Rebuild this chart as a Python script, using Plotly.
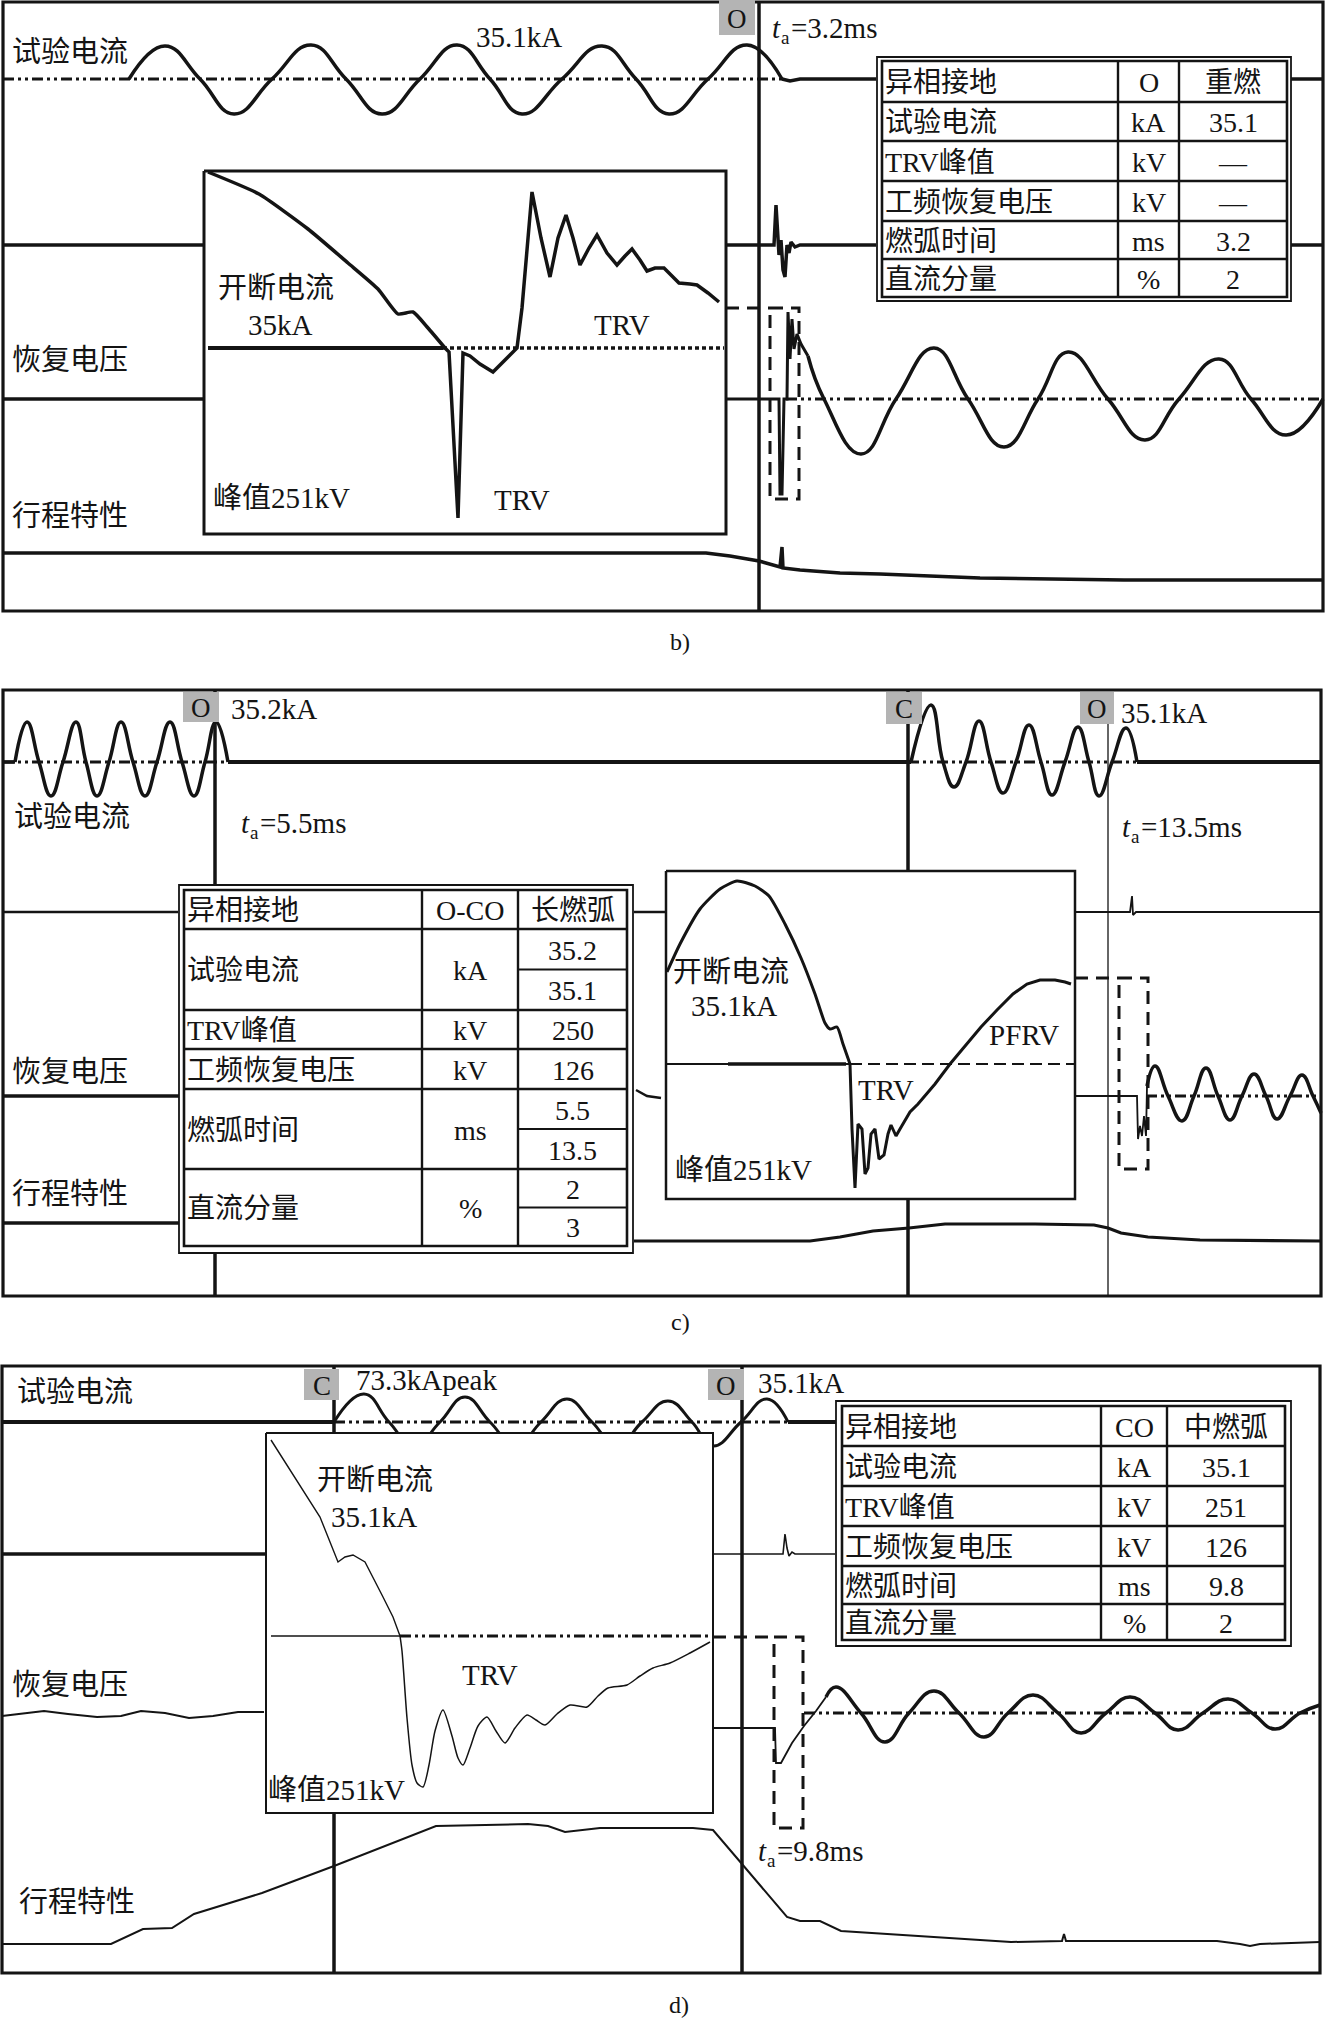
import plotly.graph_objects as go

W, H = 1328, 2021
INK = "#141414"
FONT = "Liberation Serif, 'Noto Sans CJK SC', serif"
DASHDOT = "11px,4px,3px,4px,3px,4px"

# ---------------- layout constants (positions, not data) ----------------
PANEL_BOX = {"b": (3, 2, 1323, 611), "c": (3, 690, 1321, 1296), "d": (2, 1366, 1320, 1973)}
B_Y = dict(cur=79, aux=245, rv=399, trav=553, ins=348)
C_Y = dict(cur=762, aux=912, rv=1096, trav=1241, ins=1064)
D_Y = dict(cur=1422, aux=1554, rv=1713, trav=1944, ins=1636)

# ================= DATA (sample time position, value above trace baseline) =========
# ---- panel b) ----
b_cur_x = [129, 165, 200, 234, 272, 311, 346, 382, 420, 457, 490, 522, 562, 602, 636, 669, 708, 747, 782]
b_cur_v = [0, 33, 0, -35, 0, 34, 0, -35, 0, 34, 0, -35, 0, 33, 0, -35, 0, 34, 0]
b_cur_tail_x = [782, 790, 800, 876]
b_cur_tail_v = [0, -2, 0, 0]
b_aux_x = [727, 774, 776, 778, 779, 781, 783, 785, 787, 789, 791, 795, 800, 876]
b_aux_v = [0, 0, 40, 0, -10, 5, -25, -32, 0, -8, 3, -2, 0, 0]
b_rv_jump_x = [727, 779, 780, 782, 784, 787, 788, 790, 792, 794, 797, 801, 808]
b_rv_jump_v = [0, 0, -95, -95, 0, 0, 87, 40, 80, 50, 65, 55, 43]
b_rv_x = [808, 824, 861, 896, 934, 968, 1004, 1038, 1068, 1108, 1145, 1179, 1219, 1251, 1286, 1323]
b_rv_v = [43, 0, -55, 0, 51, 0, -48, 0, 47, 0, -41, 0, 40, 0, -36, 0]
b_trav_x = [3, 706, 730, 759, 780, 782, 783, 800, 840, 880, 980, 1124, 1323]
b_trav_v = [0, 0, -3, -8, -14, 6, -15, -17, -20, -21, -25, -27, -27]
b_ins_cur_x = [208, 259, 308, 348, 378, 398, 413, 428, 445]
b_ins_cur_v = [176, 154, 119, 85, 59, 34, 36, 20, 0]
b_ins_trv_x = [445, 449, 458, 463, 470, 480, 493, 505, 517, 522, 532, 541, 550, 558, 566, 573, 580,
               589, 597, 607, 617, 625, 632, 640, 647, 655, 664, 672, 679, 690, 697, 708, 719]
b_ins_trv_v = [0, -4, -170, -5, -8, -16, -24, -12, 0, 40, 156, 110, 71, 110, 133, 110, 83,
               100, 113, 95, 83, 92, 99, 88, 77, 80, 80, 72, 65, 64, 63, 55, 46]

# ---- panel c) ----
c_cur1_x = [15, 27, 39, 51, 63, 76, 86, 97, 109, 121, 133, 145, 157, 170, 182, 194, 205, 216, 228]
c_cur1_v = [0, 40, 0, -34, 0, 40, 0, -34, 0, 40, 0, -34, 0, 40, 0, -34, 0, 40, 0]
c_cur2_x = [911, 931, 943, 954, 966, 979, 991, 1003, 1016, 1029, 1041, 1052, 1065, 1078, 1089, 1099, 1112, 1126, 1137]
c_cur2_v = [0, 57, 0, -25, 0, 41, 0, -31, 0, 37, 0, -33, 0, 35, 0, -34, 0, 34, 0]
c_aux_x = [1075, 1130, 1132, 1133, 1136, 1321]
c_aux_v = [0, 0, 16, -3, 0, 0]
c_rv_mid_x = [636, 647, 661]
c_rv_mid_v = [6, 0, -2]
c_rv_jump_x = [1075, 1137, 1138, 1140, 1142, 1144, 1146, 1147]
c_rv_jump_v = [0, 0, -43, -30, -40, -20, -40, 10]
c_rv_x = [1147, 1155, 1168, 1182, 1194, 1206, 1218, 1230, 1242, 1254, 1266, 1277, 1290, 1302, 1313, 1321]
c_rv_v = [10, 30, 0, -25, 0, 28, 0, -24, 0, 22, 0, -23, 0, 21, 0, -17]
c_trav_left_v = 18
c_trav_x = [634, 810, 840, 873, 909, 945, 975, 1035, 1094, 1108, 1121, 1148, 1200, 1321]
c_trav_v = [0, 0, 4, 10, 13, 17, 17, 17, 16, 13, 8, 4, 1, 0]
c_ins_cur_x = [667, 680, 700, 720, 737, 755, 769, 785, 801, 815, 825, 830, 837, 843, 850]
c_ins_cur_v = [92, 120, 155, 175, 183, 178, 168, 140, 106, 70, 41, 35, 37, 20, 0]
c_ins_trv_x = [850, 852, 855, 858, 862, 865, 868, 871, 875, 879, 884, 888, 891, 896, 900, 910, 918,
               935, 950, 965, 981, 997, 1013, 1027, 1040, 1055, 1065, 1071]
c_ins_trv_v = [0, -65, -124, -60, -65, -110, -104, -70, -65, -95, -91, -70, -61, -72, -65, -48, -40,
               -20, 0, 18, 37, 54, 70, 80, 84, 84, 82, 80]

# ---- panel d) ----
d_cur_x = [334, 364, 389, 414, 440, 465, 490, 516, 541, 567, 592, 617, 642, 668, 692, 713, 741, 767, 788]
d_cur_v = [0, 28, 0, -24, 0, 25, 0, -24, 0, 23, 0, -24, 0, 21, 0, -24, 0, 23, 0]
d_aux_x = [713, 783, 785, 787, 789, 792, 795, 835]
d_aux_v = [0, 0, 20, 6, -2, 2, 0, 0]
d_rv_left_x = [2, 24, 44, 68, 97, 121, 141, 165, 189, 213, 238, 264]
d_rv_left_v = [-3, 0, 2, -1, -4, -3, 2, 0, -5, -3, 1, 1]
d_rv_jump_x = [713, 775, 776, 781, 792, 804, 816, 826]
d_rv_jump_v = [-15, -15, -50, -50, -30, -13, 2, 16]
d_rv_x = [826, 836, 861, 885, 909, 934, 959, 984, 1008, 1033, 1058, 1081, 1106, 1130, 1155, 1178,
          1203, 1228, 1252, 1275, 1300, 1320]
d_rv_v = [16, 26, 0, -29, 0, 22, 0, -24, 0, 18, 0, -20, 0, 16, 0, -17, 0, 14, 0, -16, 0, 8]
d_trav_x = [2, 111, 143, 172, 194, 262, 334, 417, 436, 528, 548, 565, 600, 693, 713, 742, 787, 800,
            820, 841, 900, 1011, 1062, 1064, 1066, 1150, 1217, 1240, 1250, 1260, 1320]
d_trav_v = [0, 0, 15, 16, 30, 51, 78, 110, 118, 120, 118, 112, 116, 116, 114, 80, 27, 23,
            23, 13, 9, 2, 3, 10, 3, 3, 3, 0, -2, 0, 2]
d_ins_cur_x = [271, 300, 320, 338, 345, 353, 365, 383, 393, 400]
d_ins_cur_v = [196, 150, 119, 74, 79, 81, 74, 39, 19, 0]
d_ins_trv_x = [400, 402, 407, 412, 417, 423, 429, 435, 443, 452, 458, 463, 470, 478, 487, 496, 505,
               515, 527, 536, 545, 557, 570, 587, 598, 608, 627, 640, 653, 670, 690, 710]
d_ins_trv_v = [0, -15, -82, -129, -147, -151, -129, -95, -74, -100, -122, -129, -112, -90, -81, -95, -107,
               -92, -79, -84, -89, -78, -69, -71, -60, -52, -49, -40, -32, -27, -17, -6]

# ---- tables ----
b_table = [("异相接地", "O", ["重燃"]), ("试验电流", "kA", ["35.1"]), ("TRV峰值", "kV", ["—"]),
           ("工频恢复电压", "kV", ["—"]), ("燃弧时间", "ms", ["3.2"]), ("直流分量", "%", ["2"])]
c_table = [("异相接地", "O-CO", ["长燃弧"]), ("试验电流", "kA", ["35.2", "35.1"]), ("TRV峰值", "kV", ["250"]),
           ("工频恢复电压", "kV", ["126"]), ("燃弧时间", "ms", ["5.5", "13.5"]), ("直流分量", "%", ["2", "3"])]
d_table = [("异相接地", "CO", ["中燃弧"]), ("试验电流", "kA", ["35.1"]), ("TRV峰值", "kV", ["251"]),
           ("工频恢复电压", "kV", ["126"]), ("燃弧时间", "ms", ["9.8"]), ("直流分量", "%", ["2"])]
arc_times = {"b": "3.2ms", "c1": "5.5ms", "c2": "13.5ms", "d": "9.8ms"}

# ================= drawing =================
fig = go.Figure()
shapes = []
notes = []


def seg(base, xs, vs, w=3.5, shape="linear", dash=None, smooth=1.3):
    ln = dict(color=INK, width=w, shape=shape)
    if shape == "spline":
        ln["smoothing"] = smooth
    if dash:
        ln["dash"] = dash
    fig.add_trace(go.Scatter(x=list(xs), y=[base - v for v in vs], mode="lines", line=ln,
                             hoverinfo="skip", showlegend=False))


def flat(base, x0, x1, v=0, w=3.5, dash=None):
    seg(base, [x0, x1], [v, v], w=w, dash=dash)


def fill_box(x0, y0, x1, y1, w):
    fig.add_trace(go.Scatter(x=[x0, x1, x1, x0, x0], y=[y0, y0, y1, y1, y0], mode="lines",
                             fill="toself", fillcolor="white", line=dict(color=INK, width=w),
                             hoverinfo="skip", showlegend=False))


def vline(x, y0, y1, w=3.5):
    shapes.append(dict(type="line", x0=x, x1=x, y0=y0, y1=y1, xref="x", yref="y", layer="below",
                       line=dict(color=INK, width=w)))


def rect(x0, y0, x1, y1, w=3, dash=None, fill=None, layer="above", color=INK):
    d = dict(type="rect", x0=x0, x1=x1, y0=y0, y1=y1, xref="x", yref="y", layer=layer,
             line=dict(color=color, width=w))
    if dash:
        d["line"]["dash"] = dash
    if fill:
        d["fillcolor"] = fill
    if w == 0:
        d["line"] = dict(width=0)
    shapes.append(d)


def hline(x0, x1, y, w=2.5, dash=None):
    d = dict(type="line", x0=x0, x1=x1, y0=y, y1=y, xref="x", yref="y", layer="above",
             line=dict(color=INK, width=w))
    if dash:
        d["line"]["dash"] = dash
    shapes.append(d)


def text(x, y, s, size=29, anchor="left", style="normal"):
    notes.append(dict(x=x, y=y, text=s, showarrow=False, xanchor=anchor, yanchor="middle",
                      xref="x", yref="y", font=dict(family=FONT, size=size, color=INK, style=style)))


def ta(x, y, s):
    text(x, y, "t", style="italic")
    text(x + 9, y + 9, "a", size=19)
    text(x + 19, y, "=" + s)


def tag(x0, y0, x1, y1, s):
    rect(x0, y0, x1, y1, w=0, fill="#b4b4b4")
    text((x0 + x1) / 2, (y0 + y1) / 2 + 1, s, size=27, anchor="center")


def table(outer, inner, cols, row_edges, rows, size=28):
    ox0, oy0, ox1, oy1 = outer
    ix0, iy0, ix1, iy1 = inner
    rect(ox0, oy0, ox1, oy1, w=1.8, fill="white")
    rect(ix0, iy0, ix1, iy1, w=2.6)
    for cx in cols:
        shapes.append(dict(type="line", x0=cx, x1=cx, y0=iy0, y1=iy1, xref="x", yref="y",
                           layer="above", line=dict(color=INK, width=2.4)))
    for ry in row_edges[1:-1]:
        hline(ix0, ix1, ry, w=2.4)
    c2 = (cols[0] + cols[1]) / 2
    c3 = (cols[1] + ix1) / 2
    for i, (lab, unit, vals) in enumerate(rows):
        r0, r1 = row_edges[i], row_edges[i + 1]
        mid = (r0 + r1) / 2 + 1
        text(ix0 + 1, mid, lab, size=size)
        text(c2, mid, unit, size=size, anchor="center")
        n = len(vals)
        for k, v in enumerate(vals):
            s0 = r0 + (r1 - r0) * k / n
            s1 = r0 + (r1 - r0) * (k + 1) / n
            if k > 0:
                hline(cols[1], ix1, s0, w=2)
            text(c3, (s0 + s1) / 2 + 1, v, size=size, anchor="center")


# ---------- panel b ----------
bx0, by0, bx1, by1 = PANEL_BOX["b"]
vline(759, by0, by1)
seg(B_Y["cur"], [3, 782], [0, 0], w=3, dash=DASHDOT)
seg(B_Y["cur"], b_cur_x, b_cur_v, shape="spline")
seg(B_Y["cur"], b_cur_tail_x, b_cur_tail_v)
flat(B_Y["cur"], 1291, 1323)
flat(B_Y["aux"], 3, 204)
seg(B_Y["aux"], b_aux_x, b_aux_v)
flat(B_Y["aux"], 1291, 1323)
flat(B_Y["rv"], 3, 204)
seg(B_Y["rv"], b_rv_jump_x, b_rv_jump_v, w=3)
seg(B_Y["rv"], [786, 1323], [0, 0], w=3, dash=DASHDOT)
seg(B_Y["rv"], b_rv_x, b_rv_v, shape="spline")
seg(B_Y["trav"], b_trav_x, b_trav_v, w=3.5)
fill_box(204, 171, 726, 534, 3)
flat(B_Y["ins"], 208, 443, w=4)
seg(B_Y["ins"], [443, 724], [0, 0], w=3.5, dash="4px,3px")
seg(B_Y["ins"], b_ins_cur_x, b_ins_cur_v, w=3.5, shape="spline", smooth=0.5)
seg(B_Y["ins"], b_ins_trv_x, b_ins_trv_v, w=3.5)
hline(726, 770, 308, w=3, dash="13px,8px")
rect(770, 308, 799, 499, w=3, dash="13px,8px")
table((877, 57, 1291, 301), (882, 61, 1287, 297), [1118, 1179], [61, 102, 141, 181, 221, 259, 297], b_table)
tag(719, 0, 755, 35, "O")
text(10, 52, "试验电流")
text(10, 360, "恢复电压")
text(10, 516, "行程特性")
text(519, 37, "35.1kA", anchor="center")
ta(770, 28, arc_times["b"])
text(216, 288, "开断电流")
text(246, 325, "35kA")
text(592, 325, "TRV")
text(211, 498, "峰值251kV")
text(492, 500, "TRV")
text(680, 642, "b)", size=24, anchor="center")

# ---------- panel c ----------
cx0, cy0, cx1, cy1 = PANEL_BOX["c"]
vline(215, cy0, cy1)
vline(908, cy0, cy1)
vline(1108, 721, cy1, w=1.3)
flat(C_Y["cur"], 3, 15)
seg(C_Y["cur"], [3, 230], [0, 0], w=3, dash=DASHDOT)
seg(C_Y["cur"], c_cur1_x, c_cur1_v, shape="spline")
flat(C_Y["cur"], 228, 911, w=4)
seg(C_Y["cur"], [908, 1137], [0, 0], w=3, dash=DASHDOT)
seg(C_Y["cur"], c_cur2_x, c_cur2_v, shape="spline")
flat(C_Y["cur"], 1137, 1321, w=4)
flat(C_Y["aux"], 3, 178, w=2.5)
flat(C_Y["aux"], 634, 665, w=2.5)
seg(C_Y["aux"], c_aux_x, c_aux_v, w=1.8)
flat(C_Y["rv"], 3, 180, w=3.5)
seg(C_Y["rv"], c_rv_mid_x, c_rv_mid_v, w=2.5)
seg(C_Y["rv"], c_rv_jump_x, c_rv_jump_v, w=1.8)
seg(C_Y["rv"], [1146, 1321], [0, 0], w=3, dash=DASHDOT)
seg(C_Y["rv"], c_rv_x, c_rv_v, shape="spline")
flat(C_Y["trav"], 3, 180, v=c_trav_left_v, w=3.5)
seg(C_Y["trav"], c_trav_x, c_trav_v, w=3.2)
fill_box(666, 871, 1075, 1199, 2.5)
flat(C_Y["ins"], 666, 850, w=1.8)
flat(C_Y["ins"], 728, 846, w=3.5)
seg(C_Y["ins"], [850, 1075], [0, 0], w=1.8, dash="12px,6px")
seg(C_Y["ins"], c_ins_cur_x, c_ins_cur_v, w=3, shape="spline", smooth=0.6)
seg(C_Y["ins"], c_ins_trv_x, c_ins_trv_v, w=3)
hline(1075, 1119, 978, w=3, dash="13px,8px")
rect(1119, 978, 1148, 1169, w=3, dash="13px,8px")
table((179, 885, 633, 1253), (184, 890, 627, 1246), [422, 518], [890, 929, 1010, 1049, 1089, 1169, 1246], c_table)
tag(183, 692, 219, 722, "O")
tag(886, 692, 922, 724, "C")
tag(1080, 692, 1114, 724, "O")
text(12, 817, "试验电流")
text(10, 1072, "恢复电压")
text(10, 1194, "行程特性")
text(229, 709, "35.2kA")
text(1119, 713, "35.1kA")
ta(239, 823, arc_times["c1"])
ta(1120, 827, arc_times["c2"])
text(671, 972, "开断电流")
text(689, 1006, "35.1kA")
text(987, 1035, "PFRV")
text(856, 1090, "TRV")
text(673, 1170, "峰值251kV")
text(680, 1322, "c)", size=24, anchor="center")

# ---------- panel d ----------
dx0, dy0, dx1, dy1 = PANEL_BOX["d"]
vline(334, dy0, dy1)
vline(742, dy0, dy1)
flat(D_Y["cur"], 2, 334, w=4)
seg(D_Y["cur"], [334, 788], [0, 0], w=3, dash=DASHDOT)
seg(D_Y["cur"], d_cur_x, d_cur_v, w=3, shape="spline")
flat(D_Y["cur"], 788, 837, w=4)
flat(D_Y["aux"], 2, 266, w=3.5)
seg(D_Y["aux"], d_aux_x, d_aux_v, w=1.6)
seg(D_Y["rv"], d_rv_left_x, d_rv_left_v, w=2.2)
seg(D_Y["rv"], d_rv_jump_x, d_rv_jump_v, w=1.8)
seg(D_Y["rv"], [804, 1320], [0, 0], w=3, dash=DASHDOT)
seg(D_Y["rv"], d_rv_x, d_rv_v, w=3.5, shape="spline")
seg(D_Y["trav"], d_trav_x, d_trav_v, w=2)
fill_box(266, 1433, 713, 1813, 2)
flat(D_Y["ins"], 271, 400, w=1.6)
seg(D_Y["ins"], [400, 713], [0, 0], w=2.8, dash=DASHDOT)
seg(D_Y["ins"], d_ins_cur_x, d_ins_cur_v, w=1.4)
seg(D_Y["ins"], d_ins_trv_x, d_ins_trv_v, w=1.5, shape="spline", smooth=0.7)
hline(713, 774, 1637, w=3, dash="13px,8px")
rect(774, 1637, 803, 1828, w=3, dash="13px,8px")
table((836, 1401, 1291, 1646), (842, 1406, 1285, 1640), [1101, 1167], [1406, 1446, 1486, 1526, 1566, 1604, 1640], d_table)
tag(304, 1369, 339, 1400, "C")
tag(708, 1369, 744, 1400, "O")
text(15, 1392, "试验电流")
text(10, 1685, "恢复电压")
text(17, 1902, "行程特性")
text(354, 1380, "73.3kApeak")
text(756, 1383, "35.1kA")
ta(756, 1851, arc_times["d"])
text(315, 1480, "开断电流")
text(329, 1517, "35.1kA")
text(460, 1675, "TRV")
text(266, 1790, "峰值251kV")
text(679, 2005, "d)", size=24, anchor="center")

# panel borders
for key, (x0, y0, x1, y1) in PANEL_BOX.items():
    rect(x0, y0, x1, y1, w=3.2, layer="below")

fig.update_layout(
    width=W, height=H, autosize=False,
    margin=dict(l=0, r=0, t=0, b=0, pad=0),
    paper_bgcolor="white", plot_bgcolor="white",
    xaxis=dict(range=[0, W], visible=False, fixedrange=True, domain=[0, 1]),
    yaxis=dict(range=[H, 0], visible=False, fixedrange=True, domain=[0, 1]),
    shapes=shapes, annotations=notes, showlegend=False,
)

fig.write_html("out.html", config={"displayModeBar": False},
               post_script="document.body.style.margin='0';document.body.style.overflow='hidden';")
